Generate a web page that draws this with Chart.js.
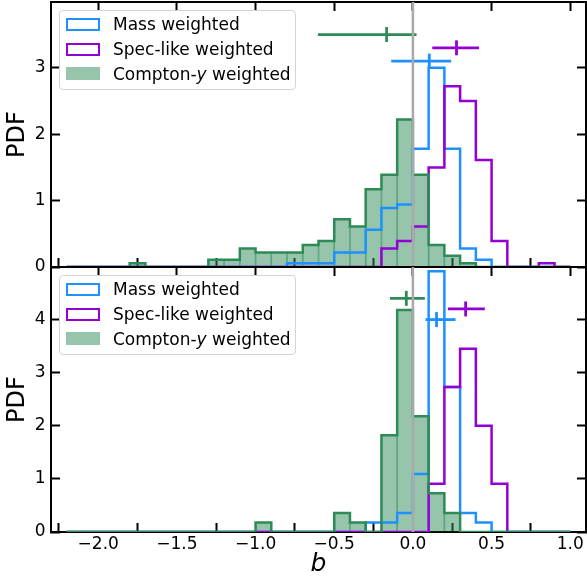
<!DOCTYPE html>
<html>
<head>
<meta charset="utf-8">
<script src="https://cdn.jsdelivr.net/npm/chart.js@4.4.1/dist/chart.umd.min.js"></script>
<style>
  body { margin: 0; background: #fff; font-family: "DejaVu Sans", sans-serif; }
  #wrap { position: relative; width: 587px; height: 581px; overflow: hidden; }
  canvas { position: absolute; left: 0; }
  #topChart { top: 0; }
  #bottomChart { top: 265px; }
  .legend {
    position: absolute; left: 59px; width: 235px; height: 78px;
    border: 1px solid #d4d4d4; border-radius: 4px; background: rgba(255,255,255,0.8);
  }
  .swatch { position: absolute; left: 6px; width: 34px; height: 13px; box-sizing: border-box; }
  .label { position: absolute; left: 53px; font-size: 17px; line-height: 20px; white-space: nowrap; color: #000; }
</style>
</head>
<body>
<div id="wrap">
  <canvas id="topChart" width="587" height="282"></canvas>
  <canvas id="bottomChart" width="587" height="316"></canvas>
  <div class="legend" id="topLegend" style="top: 10px;"></div>
  <div class="legend" id="bottomLegend" style="top: 275px;"></div>
</div>
<script>
// histogram bins: 32 bins of width 0.1 from -2.2 to 1.0
const binStart = -2.2;
const binWidth = 0.1;

const seriesNames = ['Mass weighted', 'Spec-like weighted', 'Compton-<i>y</i> weighted'];
const seriesColors = ['#1e90ff', '#9400d3', '#2e8b57'];
const comptonFill = 'rgba(46,139,87,0.5)';

// top panel PDFs
const topMass = [0, 0, 0, 0, 0, 0, 0, 0, 0, 0, 0, 0, 0, 0,
  0.056, 0.056, 0.056, 0.22, 0.22, 0.56, 0.89, 0.94, 1.78, 3.0, 1.78, 0.28, 0.11,
  0, 0, 0, 0, 0];
const topSpec = [0, 0, 0, 0, 0, 0, 0, 0, 0, 0, 0, 0, 0, 0, 0, 0, 0, 0, 0, 0,
  0.28, 0.39, 0.61, 1.5, 2.72, 2.5, 1.61, 0.39, 0, 0, 0.056, 0];
const topCompton = [0, 0, 0, 0, 0.056, 0, 0, 0, 0, 0.11, 0.11, 0.28, 0.22, 0.22,
  0.22, 0.33, 0.39, 0.72, 0.61, 1.17, 1.39, 2.22, 1.39, 0.33, 0.17, 0.056,
  0, 0, 0, 0, 0, 0];

// bottom panel PDFs
const botMass = [0, 0, 0, 0, 0, 0, 0, 0, 0, 0, 0, 0, 0, 0, 0, 0, 0, 0, 0,
  0.18, 0.18, 0.36, 1.09, 4.91, 2.73, 0.36, 0.18, 0, 0, 0, 0, 0];
const botSpec = [0, 0, 0, 0, 0, 0, 0, 0, 0, 0, 0, 0, 0, 0, 0, 0, 0, 0, 0, 0, 0, 0, 0,
  0.91, 2.73, 3.45, 2.0, 0.91, 0, 0, 0, 0];
const botCompton = [0, 0, 0, 0, 0, 0, 0, 0, 0, 0, 0, 0, 0.18, 0, 0, 0, 0, 0.36, 0.18, 0,
  1.82, 4.18, 2.18, 0.73, 0.36, 0, 0, 0, 0, 0, 0, 0];

// error bars (mass, spec-like, compton-y)
const topBarY = [3.1, 3.3, 3.5];
const topBarMid = [0.104, 0.277, -0.167];
const topBarLo = [-0.138, 0.123, -0.604];
const topBarHi = [0.243, 0.42, 0.023];
const botBarY = [4.0, 4.2, 4.4];
const botBarMid = [0.15, 0.335, -0.042];
const botBarLo = [0.08, 0.222, -0.146];
const botBarHi = [0.271, 0.457, 0.076];

// axes
const xMin = -2.3, xMax = 1.1;
const xTicks = [-2.0, -1.5, -1.0, -0.5, 0.0, 0.5, 1.0];
const topYMax = 3.99, botYMax = 4.99;
const topYTicks = [0, 1, 2, 3];
const botYTicks = [0, 1, 2, 3, 4];

const tickFont = { family: 'DejaVu Sans', size: 17 };

function stepPoints(vals) {
  const pts = [{ x: binStart, y: 0 }];
  vals.forEach((v, i) => pts.push({ x: binStart + binWidth * (i + 1), y: v }));
  pts.push({ x: binStart + binWidth * vals.length, y: 0 });
  return pts;
}

function barPoints(vals) {
  return vals.map((v, i) => ({ x: binStart + binWidth * (i + 0.5), y: v }));
}

function fmtX(v) {
  return (v < 0 ? '\u2212' : '') + Math.abs(v).toFixed(1);
}

function setTicks(list) {
  return scale => { scale.ticks = list.map(v => ({ value: v })); };
}

function gridOpts() {
  return { drawOnChartArea: false, tickLength: -9, tickWidth: 2, tickColor: '#000' };
}

function buildDatasets(mass, spec, compton, barY, barMid, barLo, barHi, yMax) {
  const ds = [];
  // vertical reference line at b = 0
  ds.push({ type: 'line', data: [{ x: 0, y: 0 }, { x: 0, y: yMax }], borderColor: '#a9a9a9',
    borderWidth: 2.5, pointRadius: 0, order: 0 });
  // error bars
  for (let i = 0; i < 3; i++) {
    ds.push({ type: 'line', data: [{ x: barMid[i], y: barY[i] }], showLine: false,
      pointStyle: 'line', pointRotation: 90, pointRadius: 7.5, pointBorderWidth: 2.8,
      pointBorderColor: seriesColors[i], order: 1 });
    ds.push({ type: 'line', data: [{ x: barLo[i], y: barY[i] }, { x: barHi[i], y: barY[i] }],
      borderColor: seriesColors[i], borderWidth: 2.8, pointRadius: 0, order: 2 });
  }
  // step histograms
  ds.push({ type: 'line', data: stepPoints(compton), stepped: 'after', borderColor: seriesColors[2],
    borderWidth: 2.5, pointRadius: 0, fill: false, order: 3 });
  ds.push({ type: 'line', data: stepPoints(spec), stepped: 'after', borderColor: seriesColors[1],
    borderWidth: 2.5, pointRadius: 0, fill: false, order: 4 });
  ds.push({ type: 'line', data: stepPoints(mass), stepped: 'after', borderColor: seriesColors[0],
    borderWidth: 2.5, pointRadius: 0, fill: false, order: 5 });
  // filled compton-y bars
  ds.push({ type: 'bar', data: barPoints(compton), backgroundColor: comptonFill,
    borderColor: 'rgba(46,139,87,0.6)', borderWidth: { left: 0.5, right: 0.5, top: 0, bottom: 0 },
    borderSkipped: false, barPercentage: 1, categoryPercentage: 1, order: 6 });
  return ds;
}

function makeChart(canvasId, datasets, yMax, yTicks, showXLabels, bottomHeight) {
  const ctx = document.getElementById(canvasId).getContext('2d');
  return new Chart(ctx, {
    type: 'line',
    data: { datasets: datasets },
    options: {
      responsive: false,
      animation: false,
      events: [],
      layout: { padding: 0, autoPadding: false },
      plugins: { legend: { display: false }, tooltip: { enabled: false } },
      scales: {
        x: {
          type: 'linear', position: 'bottom', min: xMin, max: xMax, offset: false,
          afterBuildTicks: setTicks(xTicks),
          ticks: { display: showXLabels, callback: fmtX, font: tickFont, color: '#000', padding: 11, maxRotation: 0 },
          grid: gridOpts(),
          border: { color: '#000', width: 2 },
          title: { display: showXLabels, text: 'b', color: '#000',
            font: { family: 'DejaVu Sans', size: 25, style: 'italic' }, padding: { top: 0, bottom: 2 } },
          afterFit: s => { s.height = bottomHeight; s.paddingLeft = 0; s.paddingRight = 0; }
        },
        xTop: {
          type: 'linear', position: 'top', min: xMin, max: xMax, offset: false,
          afterBuildTicks: setTicks(xTicks),
          ticks: { display: false },
          grid: gridOpts(),
          border: { color: '#000', width: 2 },
          afterFit: s => { s.height = 2; s.paddingLeft = 0; s.paddingRight = 0; }
        },
        y: {
          type: 'linear', position: 'left', min: 0, max: yMax,
          afterBuildTicks: setTicks(yTicks),
          ticks: { callback: v => v.toFixed(0), font: tickFont, color: '#000', padding: 14.5 },
          grid: gridOpts(),
          border: { color: '#000', width: 2 },
          title: { display: true, text: 'PDF', color: '#000',
            font: { family: 'DejaVu Sans', size: 24 }, padding: { top: 3, bottom: 0 } },
          afterFit: s => { s.width = 51; s.paddingTop = 0; s.paddingBottom = 0; }
        },
        yRight: {
          type: 'linear', position: 'right', min: 0, max: yMax,
          afterBuildTicks: setTicks(yTicks),
          ticks: { display: false },
          grid: gridOpts(),
          border: { color: '#000', width: 2 },
          afterFit: s => { s.width = 1; s.paddingTop = 0; s.paddingBottom = 0; }
        }
      }
    }
  });
}

function buildLegend(id) {
  const box = document.getElementById(id);
  const rowTops = [6.5, 31.5, 56];
  seriesNames.forEach((name, i) => {
    const sw = document.createElement('div');
    sw.className = 'swatch';
    sw.style.top = rowTops[i] + 'px';
    if (i < 2) {
      sw.style.border = '2.5px solid ' + seriesColors[i];
    } else {
      sw.style.background = comptonFill;
    }
    box.appendChild(sw);
    const lab = document.createElement('div');
    lab.className = 'label';
    lab.style.top = (rowTops[i] - 3.5) + 'px';
    lab.innerHTML = name;
    box.appendChild(lab);
  });
}

makeChart('topChart',
  buildDatasets(topMass, topSpec, topCompton, topBarY, topBarMid, topBarLo, topBarHi, topYMax),
  topYMax, topYTicks, false, 15);
makeChart('bottomChart',
  buildDatasets(botMass, botSpec, botCompton, botBarY, botBarMid, botBarLo, botBarHi, botYMax),
  botYMax, botYTicks, true, 49);
buildLegend('topLegend');
buildLegend('bottomLegend');
</script>
</body>
</html>
